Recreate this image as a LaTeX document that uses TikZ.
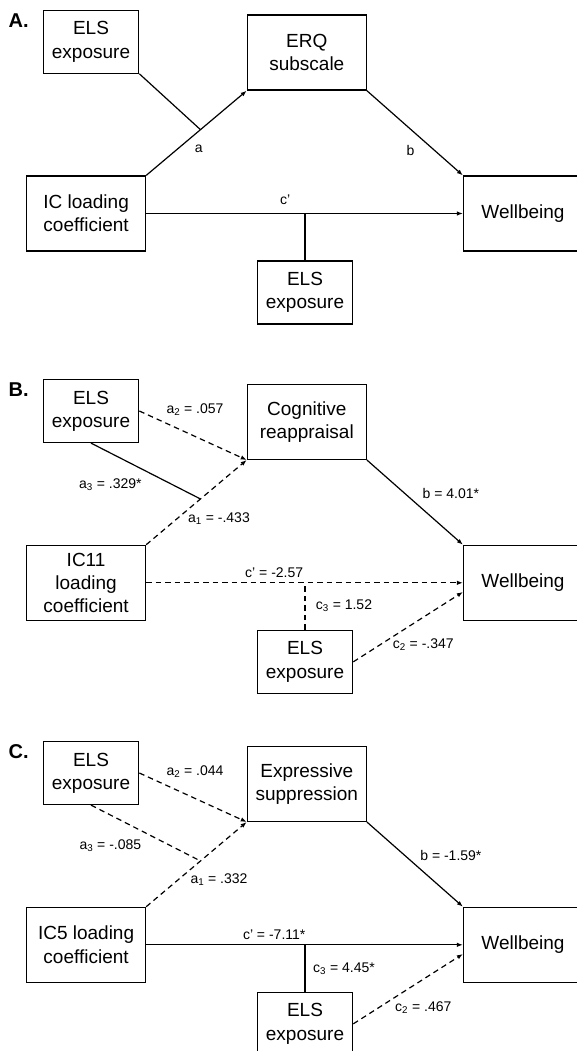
\documentclass[tikz,border=0pt]{standalone}
\usepackage{fontspec}
\setmainfont{Liberation Sans}
\usetikzlibrary{calc,arrows.meta}
\begin{document}
\begin{tikzpicture}[x=1pt,y=-1pt,
  box/.style={draw,line width=1.2pt,inner sep=0pt,align=center,
    minimum width=119pt,minimum height=75pt,
    font=\fontsize{19}{23.3}\selectfont},
  smallbox/.style={box,minimum width=95.5pt,minimum height=63pt},
  panellab/.style={anchor=west,inner sep=0pt,font=\fontsize{20}{24}\selectfont\bfseries},
  lab/.style={inner sep=0pt,font=\fontsize{14}{16}\selectfont},
  ln/.style={line width=1.2pt},
  arr/.style={ln,-{Latex[length=6pt,width=4.5pt]}},
  dsh/.style={dash pattern=on 5.5pt off 4pt},
]
\useasboundingbox (0,0) rectangle (577,1051);
\clip (0,0) rectangle (577,1051);
\fill[white] (0,0) rectangle (577,1051);

% ---------------- Panel A ----------------
\begin{scope}
\node[panellab] (Alab) at (8.5,20.5) {A.};
\node[smallbox] (Ae1) at (91,41.7) {ELS\\exposure};
\node[box] (Am) at (306.8,52.6) {ERQ\\subscale};
\node[box] (Aic) at (86.1,213.5) {IC loading\\coefficient};
\node[box] (Awb) at (523,213.5) {Wellbeing};
\node[smallbox] (Ae2) at (305,292.5) {ELS\\exposure};
\coordinate (Aj) at ($(Aic.north east)!0.54!(Am.south west)$);
\coordinate (Ak) at (Ae2.north |- Aic.east);
\draw[arr] (Aic.north east) -- (Am.south west);
\draw[ln] (Ae1.south east) -- (Aj);
\draw[arr] (Am.south east) -- (Awb.north west);
\draw[arr] (Aic.east) -- (Awb.west);
\draw[ln] (Ae2.north) -- (Ak);
\node[lab] (Ala) at (198.7,149.3) {a};
\node[lab] (Alb) at (410.4,150) {b};
\node[lab] (Alc) at (285.2,200) {c'};
\end{scope}

% ---------------- Panel B ----------------
\begin{scope}[shift={(0,369.3)}]
\node[panellab] (Blab) at (8.5,20.5) {B.};
\node[smallbox] (Be1) at (91,41.7) {ELS\\exposure};
\node[box] (Bm) at (306.8,52.6) {Cognitive\\reappraisal};
\node[box] (Bic) at (86.1,213.5) {IC11\\loading\\coefficient};
\node[box] (Bwb) at (523,213.5) {Wellbeing};
\node[smallbox] (Be2) at (305,292.5) {ELS\\exposure};
\coordinate (Bj) at ($(Bic.north east)!0.54!(Bm.south west)$);
\coordinate (Bk) at (Be2.north |- Bic.east);
\coordinate (Bw2) at ($(Bwb.west)+(0,9.2)$);
\draw[arr,dsh] (Be1.east) -- (Bm.south west);
\draw[ln] (Be1.south) -- (Bj);
\draw[arr,dsh] (Bic.north east) -- (Bm.south west);
\draw[arr] (Bm.south east) -- (Bwb.north west);
\draw[arr,dsh] (Bic.east) -- (Bwb.west);
\draw[ln,dsh] (Be2.north) -- (Bk);
\draw[arr,dsh] (Be2.east) -- (Bw2);
\node[lab] (Bla2) at (195,40.7) {a\textsubscript{2} = .057};
\node[lab] (Bla3) at (110.4,115.7) {a\textsubscript{3} = .329*};
\node[lab] (Bla1) at (219,149) {a\textsubscript{1} = -.433};
\node[lab] (Blb) at (450.9,124) {b = 4.01*};
\node[lab] (Blc) at (274.2,203) {c' = -2.57};
\node[lab] (Blc3) at (344,236.4) {c\textsubscript{3} = 1.52};
\node[lab] (Blc2) at (423.3,275.7) {c\textsubscript{2} = -.347};
\end{scope}

% ---------------- Panel C ----------------
\begin{scope}[shift={(0,731.3)}]
\node[panellab] (Clab) at (8.5,20.5) {C.};
\node[smallbox] (Ce1) at (91,41.7) {ELS\\exposure};
\node[box] (Cm) at (306.8,52.6) {Expressive\\suppression};
\node[box] (Cic) at (86.1,213.5) {IC5 loading\\coefficient};
\node[box] (Cwb) at (523,213.5) {Wellbeing};
\node[smallbox] (Ce2) at (305,292.5) {ELS\\exposure};
\coordinate (Cj) at ($(Cic.north east)!0.54!(Cm.south west)$);
\coordinate (Ck) at (Ce2.north |- Cic.east);
\coordinate (Cw2) at ($(Cwb.west)+(0,9.2)$);
\draw[arr,dsh] (Ce1.east) -- (Cm.south west);
\draw[ln,dsh] (Ce1.south) -- (Cj);
\draw[arr,dsh] (Cic.north east) -- (Cm.south west);
\draw[arr] (Cm.south east) -- (Cwb.north west);
\draw[arr] (Cic.east) -- (Cwb.west);
\draw[ln] (Ce2.north) -- (Ck);
\draw[arr,dsh] (Ce2.east) -- (Cw2);
\node[lab] (Cla2) at (195,40.4) {a\textsubscript{2} = .044};
\node[lab] (Cla3) at (110.4,114.7) {a\textsubscript{3} = -.085};
\node[lab] (Cla1) at (219,148.7) {a\textsubscript{1} = .332};
\node[lab] (Clb) at (450.9,123.7) {b = -1.59*};
\node[lab] (Clc) at (274.2,203.7) {c' = -7.11*};
\node[lab] (Clc3) at (344,237) {c\textsubscript{3} = 4.45*};
\node[lab] (Clc2) at (423.3,276) {c\textsubscript{2} = .467};
\end{scope}
\end{tikzpicture}
\end{document}
